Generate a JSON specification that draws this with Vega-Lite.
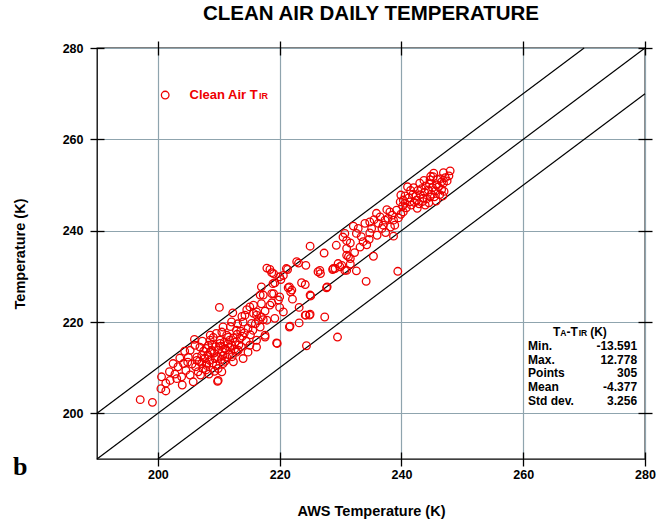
{
  "$schema": "https://vega.github.io/schema/vega-lite/v6.json",
  "width": 548,
  "height": 411,
  "autosize": {"type": "none"},
  "padding": {"left": 97, "top": 48, "right": 22, "bottom": 67},
  "background": "white",
  "title": {
    "text": "CLEAN AIR DAILY TEMPERATURE",
    "font": "Liberation Sans, Arial, sans-serif",
    "fontSize": 20.5,
    "fontWeight": "bold",
    "color": "black",
    "frame": "group",
    "offset": 16
  },
  "config": {
    "view": {"stroke": "black", "strokeWidth": 1.3},
    "axis": {
      "labelFont": "Liberation Sans, Arial, sans-serif",
      "labelFontSize": 12.5,
      "labelFontWeight": "bold",
      "labelColor": "black",
      "labelFlush": false,
      "titleFont": "Liberation Sans, Arial, sans-serif",
      "titleFontSize": 14.5,
      "titleFontWeight": "bold",
      "titleColor": "black",
      "tickColor": "black",
      "tickWidth": 1.3,
      "gridColor": "#8fa4ae",
      "gridWidth": 1.2,
      "gridOpacity": 1
    }
  },
  "datasets": {
    "diag": [
      {"line": "upper", "x": 190, "y": 200}, {"line": "upper", "x": 270, "y": 280},
      {"line": "equal", "x": 190, "y": 190}, {"line": "equal", "x": 280, "y": 280},
      {"line": "lower", "x": 200, "y": 190}, {"line": "lower", "x": 280, "y": 270}
    ],
    "pts": [
      {"x":197.1,"y":203.0},{"x":199.1,"y":202.4},{"x":200.6,"y":208.0},{"x":200.5,"y":205.4},{"x":201.3,"y":204.9},
      {"x":201.3,"y":206.6},{"x":202.0,"y":207.2},{"x":202.5,"y":210.9},{"x":201.9,"y":209.1},{"x":203.3,"y":210.2},
      {"x":203.1,"y":207.6},{"x":203.9,"y":208.0},{"x":204.2,"y":210.9},{"x":205.3,"y":213.8},{"x":205.0,"y":212.3},
      {"x":205.8,"y":206.9},{"x":206.1,"y":214.9},{"x":206.9,"y":214.5},{"x":206.4,"y":212.3},{"x":207.2,"y":212.7},
      {"x":207.2,"y":210.9},{"x":207.7,"y":212.0},{"x":208.0,"y":210.5},{"x":208.6,"y":217.1},{"x":208.3,"y":214.9},
      {"x":208.8,"y":213.8},{"x":209.4,"y":212.0},{"x":209.9,"y":207.2},{"x":209.9,"y":209.8},{"x":210.2,"y":216.0},
      {"x":211.0,"y":214.2},{"x":210.7,"y":210.9},{"x":211.3,"y":212.3},{"x":211.6,"y":216.7},{"x":210.1,"y":223.2},
      {"x":212.3,"y":222.0},{"x":217.0,"y":227.7},{"x":218.9,"y":228.4},{"x":216.8,"y":225.9},{"x":218.7,"y":226.2},
      {"x":220.0,"y":225.5},{"x":217.0,"y":224.0},{"x":218.4,"y":223.7},{"x":215.1,"y":223.3},{"x":214.3,"y":221.5},
      {"x":215.7,"y":221.9},{"x":216.2,"y":221.5},{"x":217.0,"y":221.1},{"x":217.9,"y":220.4},{"x":214.0,"y":220.0},
      {"x":215.4,"y":219.7},{"x":216.8,"y":218.9},{"x":217.6,"y":217.1},{"x":219.5,"y":215.4},{"x":214.0,"y":212.0},
      {"x":212.1,"y":220.0},{"x":210.7,"y":218.9},{"x":212.9,"y":218.2},{"x":209.6,"y":217.5},{"x":211.3,"y":217.1},
      {"x":213.5,"y":216.4},{"x":215.1,"y":214.9},{"x":214.8,"y":213.4},{"x":216.2,"y":214.5},{"x":208.6,"y":216.0},
      {"x":210.2,"y":215.3},{"x":211.8,"y":214.5},{"x":212.9,"y":213.4},{"x":208.6,"y":213.4},{"x":210.7,"y":212.7},
      {"x":212.4,"y":211.3},{"x":206.4,"y":211.6},{"x":208.0,"y":210.9},{"x":209.6,"y":210.5},{"x":207.4,"y":209.8},
      {"x":225.0,"y":236.6},{"x":227.3,"y":235.1},{"x":229.3,"y":236.8},{"x":223.1,"y":232.9},{"x":224.3,"y":232.4},
      {"x":221.3,"y":231.5},{"x":218.4,"y":231.5},{"x":219.0,"y":230.6},{"x":220.6,"y":230.2},{"x":220.2,"y":229.3},
      {"x":219.2,"y":228.6},{"x":226.3,"y":231.0},{"x":226.7,"y":230.6},{"x":228.7,"y":231.5},{"x":229.9,"y":232.1},
      {"x":223.6,"y":228.6},{"x":224.2,"y":228.2},{"x":227.7,"y":227.5},{"x":221.4,"y":227.5},{"x":221.8,"y":226.6},
      {"x":222.1,"y":225.0},{"x":217.3,"y":225.9},{"x":219.0,"y":226.2},{"x":219.8,"y":224.8},{"x":225.1,"y":225.7},
      {"x":218.7,"y":224.2},{"x":217.6,"y":222.4},{"x":220.0,"y":223.2},{"x":220.6,"y":222.2},{"x":223.2,"y":223.2},
      {"x":224.3,"y":221.5},{"x":224.9,"y":221.5},{"x":227.4,"y":221.1},{"x":223.2,"y":219.8},{"x":219.2,"y":220.8},
      {"x":221.7,"y":219.1},{"x":215.7,"y":223.7},{"x":216.2,"y":222.2},{"x":217.3,"y":220.5},{"x":230.4,"y":238.6},
      {"x":231.0,"y":236.1},{"x":231.3,"y":234.3},{"x":229.6,"y":232.8},{"x":234.2,"y":228.9},{"x":239.4,"y":231.1},
      {"x":235.4,"y":234.4},{"x":238.7,"y":238.8},{"x":231.0,"y":237.8},{"x":231.6,"y":237.3},{"x":231.0,"y":234.6},
      {"x":231.6,"y":233.9},{"x":229.1,"y":231.7},{"x":230.2,"y":232.4},{"x":230.7,"y":231.3},{"x":231.6,"y":232.7},
      {"x":232.6,"y":231.2},{"x":232.1,"y":241.0},{"x":232.9,"y":240.5},{"x":232.6,"y":239.4},{"x":233.4,"y":238.7},
      {"x":234.0,"y":241.6},{"x":234.8,"y":241.9},{"x":235.1,"y":240.5},{"x":236.2,"y":241.6},{"x":237.0,"y":241.2},
      {"x":235.9,"y":243.8},{"x":236.5,"y":243.0},{"x":237.3,"y":242.3},{"x":238.1,"y":244.1},{"x":237.8,"y":242.7},
      {"x":238.7,"y":242.3},{"x":239.2,"y":244.5},{"x":239.8,"y":246.3},{"x":240.6,"y":246.0},{"x":241.4,"y":246.3},
      {"x":234.7,"y":238.1},{"x":230.7,"y":239.4},{"x":233.7,"y":237.6},{"x":234.8,"y":239.5},{"x":248.0,"y":253.1},
      {"x":246.9,"y":252.7},{"x":245.2,"y":251.8},{"x":246.6,"y":250.7},{"x":245.8,"y":250.0},{"x":244.7,"y":251.1},
      {"x":240.3,"y":246.7},{"x":240.3,"y":244.1},{"x":243.6,"y":247.1},{"x":244.7,"y":247.4},{"x":242.5,"y":246.7},
      {"x":229.5,"y":216.7},{"x":224.4,"y":214.8},{"x":219.6,"y":215.3},{"x":209.8,"y":207.0},{"x":217.9,"y":231.8},
      {"x":218.7,"y":230.8},{"x":222.8,"y":233.2},{"x":221.1,"y":231.7},{"x":220.0,"y":229.9},{"x":221.6,"y":227.7},
      {"x":222.0,"y":227.0},{"x":225.0,"y":225.9},{"x":227.8,"y":227.7},{"x":226.6,"y":231.3},{"x":228.8,"y":231.7},
      {"x":231.0,"y":231.3},{"x":225.0,"y":221.7},{"x":224.2,"y":221.5},{"x":221.6,"y":218.9},{"x":217.6,"y":216.7},
      {"x":216.2,"y":216.0},{"x":210.5,"y":209.1},
      {"x":205.6,"y":210.8},{"x":206.2,"y":210.2},{"x":206.8,"y":211.4},{"x":207.5,"y":213.6},{"x":207.9,"y":214.2},
      {"x":208.2,"y":212.8},{"x":208.5,"y":211.6},{"x":208.9,"y":215.1},{"x":209.2,"y":213.2},{"x":209.5,"y":214.6},
      {"x":209.8,"y":212.4},{"x":210.0,"y":213.9},{"x":210.3,"y":214.7},{"x":210.6,"y":213.5},{"x":210.9,"y":215.6},
      {"x":211.2,"y":213.9},{"x":211.5,"y":215.2},{"x":211.8,"y":216.0},{"x":212.1,"y":214.9},{"x":212.4,"y":216.5},
      {"x":212.7,"y":215.6},{"x":213.0,"y":217.3},{"x":213.3,"y":215.0},{"x":213.6,"y":218.0},{"x":213.9,"y":216.9},
      {"x":214.2,"y":217.6},{"x":214.5,"y":215.8},{"x":214.8,"y":218.6},{"x":215.2,"y":217.2},{"x":215.6,"y":218.2},
      {"x":216.0,"y":219.6},{"x":216.5,"y":220.3},{"x":206.6,"y":209.1},{"x":207.0,"y":208.4},{"x":207.9,"y":209.5},
      {"x":208.4,"y":208.6},{"x":209.0,"y":211.0},{"x":209.3,"y":209.2},{"x":210.4,"y":211.8},{"x":211.0,"y":211.4},
      {"x":211.6,"y":212.9},{"x":212.2,"y":212.4},{"x":212.6,"y":214.1},{"x":213.2,"y":213.8},{"x":213.7,"y":214.6},
      {"x":204.6,"y":209.4},{"x":204.9,"y":211.2},{"x":205.3,"y":208.4},{"x":203.6,"y":212.1},{"x":204.4,"y":213.6},
      {"x":207.3,"y":215.8},{"x":209.1,"y":216.6},{"x":210.5,"y":217.8},{"x":211.9,"y":219.0},{"x":213.1,"y":219.6},
      {"x":213.8,"y":221.2},{"x":214.6,"y":222.7},{"x":204.0,"y":206.2},{"x":202.8,"y":208.6},{"x":206.0,"y":216.2},
      {"x":240.8,"y":245.0},{"x":241.2,"y":247.2},{"x":241.6,"y":245.6},{"x":241.9,"y":248.0},{"x":242.1,"y":246.2},
      {"x":242.4,"y":247.6},{"x":242.7,"y":248.8},{"x":242.9,"y":245.9},{"x":243.1,"y":247.9},{"x":243.3,"y":249.2},
      {"x":243.5,"y":246.4},{"x":243.8,"y":248.4},{"x":244.0,"y":249.8},{"x":244.2,"y":247.0},{"x":244.4,"y":248.9},
      {"x":244.6,"y":250.2},{"x":244.9,"y":248.0},{"x":245.1,"y":249.4},{"x":245.4,"y":247.4},{"x":245.6,"y":248.7},
      {"x":245.9,"y":251.2},{"x":246.1,"y":249.6},{"x":246.3,"y":247.9},{"x":246.6,"y":249.0},{"x":246.9,"y":250.4},
      {"x":247.2,"y":251.6},{"x":247.5,"y":250.9},{"x":242.0,"y":249.4},{"x":243.0,"y":250.4},{"x":241.5,"y":248.8},
      {"x":240.6,"y":247.6},{"x":239.9,"y":247.8},{"x":241.0,"y":249.6},{"x":243.7,"y":251.0},{"x":244.8,"y":251.9},
      {"x":245.3,"y":252.6},{"x":246.4,"y":251.4},{"x":247.8,"y":252.0},{"x":240.2,"y":245.4},{"x":242.6,"y":244.9},
      {"x":243.9,"y":245.6},{"x":244.5,"y":246.1},{"x":245.7,"y":246.5},{"x":246.8,"y":247.6},{"x":247.0,"y":248.6},
      {"x":236.8,"y":240.5},{"x":237.4,"y":239.6},{"x":238.2,"y":240.8},{"x":238.9,"y":241.2},{"x":239.5,"y":242.8},
      {"x":236.0,"y":239.0},{"x":235.5,"y":242.4},{"x":237.6,"y":244.6},{"x":238.5,"y":243.4},{"x":233.2,"y":236.4},
      {"x":232.3,"y":235.2},{"x":234.3,"y":236.9},{"x":239.9,"y":243.6}
    ],
    "legendpt": [{"x": 201.2, "y": 269.7}],
    "legendtxt": [{"x": 205.2, "y": 269.7, "label": "Clean Air T"}],
    "legendsub": [{"x": 216.6, "y": 269.4, "label": "IR"}],
    "statlab": [
      {"x": 260.8, "y": 214.8, "label": "Min."},
      {"x": 260.8, "y": 211.7, "label": "Max."},
      {"x": 260.8, "y": 208.8, "label": "Points"},
      {"x": 260.8, "y": 205.8, "label": "Mean"},
      {"x": 260.8, "y": 202.7, "label": "Std dev."}
    ],
    "statval": [
      {"x": 278.7, "y": 214.8, "label": "-13.591"},
      {"x": 278.7, "y": 211.7, "label": "12.778"},
      {"x": 278.7, "y": 208.8, "label": "305"},
      {"x": 278.7, "y": 205.8, "label": "-4.377"},
      {"x": 278.7, "y": 202.7, "label": "3.256"}
    ],
    "headbig": [
      {"x": 264.9, "y": 217.8, "label": "T"},
      {"x": 267.1, "y": 217.8, "label": "-T"},
      {"x": 271.0, "y": 217.8, "label": "(K)"}
    ],
    "headsmall": [
      {"x": 266.1, "y": 217.6, "label": "A"},
      {"x": 269.1, "y": 217.6, "label": "IR"}
    ],
    "panel": [{"x": 177.4, "y": 188.2, "label": "b"}]
  },
  "resolve": {"axis": {"x": "independent", "y": "independent"}},
  "layer": [
    {
      "data": {"name": "diag"},
      "mark": {"type": "line", "color": "black", "strokeWidth": 1.2},
      "encoding": {
        "x": {
          "field": "x", "type": "quantitative",
          "scale": {"domain": [190, 280], "nice": false, "zero": false},
          "axis": {
            "orient": "bottom", "values": [200, 220, 240, 260, 280], "grid": true,
            "domain": false, "tickSize": 14, "offset": -7, "labelPadding": 2,
            "title": "AWS Temperature (K)", "titlePadding": 24
          }
        },
        "y": {
          "field": "y", "type": "quantitative",
          "scale": {"domain": [190, 280], "nice": false, "zero": false},
          "axis": {
            "orient": "left", "values": [200, 220, 240, 260, 280], "grid": true,
            "domain": false, "tickSize": 14, "offset": -7, "labelPadding": 7,
            "title": "Temperature (K)", "titlePadding": 35
          }
        },
        "detail": {"field": "line"}
      }
    },
    {
      "data": {"name": "pts"},
      "mark": {"type": "point", "shape": "circle", "filled": false, "color": "#ee0000", "size": 58, "strokeWidth": 1.3, "opacity": 1},
      "encoding": {
        "x": {
          "field": "x", "type": "quantitative",
          "axis": {"orient": "top", "values": [200, 220, 240, 260, 280], "grid": false, "labels": false, "domain": false, "tickSize": 14, "offset": -7, "title": null}
        },
        "y": {
          "field": "y", "type": "quantitative",
          "axis": {"orient": "right", "values": [200, 220, 240, 260, 280], "grid": false, "labels": false, "domain": false, "tickSize": 14, "offset": -7, "title": null}
        }
      }
    },
    {
      "data": {"name": "legendpt"},
      "mark": {"type": "point", "shape": "circle", "filled": false, "color": "#ee0000", "size": 58, "strokeWidth": 1.3, "opacity": 1},
      "encoding": {
        "x": {"field": "x", "type": "quantitative", "axis": null},
        "y": {"field": "y", "type": "quantitative", "axis": null}
      }
    },
    {
      "data": {"name": "legendtxt"},
      "mark": {"type": "text", "align": "left", "baseline": "middle", "color": "#ee0000", "fontWeight": "bold", "fontSize": 13, "font": "Liberation Sans, Arial, sans-serif"},
      "encoding": {
        "x": {"field": "x", "type": "quantitative", "axis": null},
        "y": {"field": "y", "type": "quantitative", "axis": null},
        "text": {"field": "label"}
      }
    },
    {
      "data": {"name": "legendsub"},
      "mark": {"type": "text", "align": "left", "baseline": "middle", "color": "#ee0000", "fontWeight": "bold", "fontSize": 9, "font": "Liberation Sans, Arial, sans-serif"},
      "encoding": {
        "x": {"field": "x", "type": "quantitative", "axis": null},
        "y": {"field": "y", "type": "quantitative", "axis": null},
        "text": {"field": "label"}
      }
    },
    {
      "data": {"name": "statlab"},
      "mark": {"type": "text", "align": "left", "baseline": "middle", "color": "black", "fontWeight": "bold", "fontSize": 12, "font": "Liberation Sans, Arial, sans-serif"},
      "encoding": {
        "x": {"field": "x", "type": "quantitative", "axis": null},
        "y": {"field": "y", "type": "quantitative", "axis": null},
        "text": {"field": "label"}
      }
    },
    {
      "data": {"name": "statval"},
      "mark": {"type": "text", "align": "right", "baseline": "middle", "color": "black", "fontWeight": "bold", "fontSize": 12, "font": "Liberation Sans, Arial, sans-serif"},
      "encoding": {
        "x": {"field": "x", "type": "quantitative", "axis": null},
        "y": {"field": "y", "type": "quantitative", "axis": null},
        "text": {"field": "label"}
      }
    },
    {
      "data": {"name": "headbig"},
      "mark": {"type": "text", "align": "left", "baseline": "middle", "color": "black", "fontWeight": "bold", "fontSize": 12, "font": "Liberation Sans, Arial, sans-serif"},
      "encoding": {
        "x": {"field": "x", "type": "quantitative", "axis": null},
        "y": {"field": "y", "type": "quantitative", "axis": null},
        "text": {"field": "label"}
      }
    },
    {
      "data": {"name": "headsmall"},
      "mark": {"type": "text", "align": "left", "baseline": "middle", "color": "black", "fontWeight": "bold", "fontSize": 8.5, "font": "Liberation Sans, Arial, sans-serif"},
      "encoding": {
        "x": {"field": "x", "type": "quantitative", "axis": null},
        "y": {"field": "y", "type": "quantitative", "axis": null},
        "text": {"field": "label"}
      }
    },
    {
      "data": {"name": "panel"},
      "mark": {"type": "text", "align": "center", "baseline": "middle", "color": "black", "fontWeight": "bold", "fontSize": 26, "font": "Liberation Serif, DejaVu Serif, serif"},
      "encoding": {
        "x": {"field": "x", "type": "quantitative", "axis": null},
        "y": {"field": "y", "type": "quantitative", "axis": null},
        "text": {"field": "label"}
      }
    }
  ]
}
